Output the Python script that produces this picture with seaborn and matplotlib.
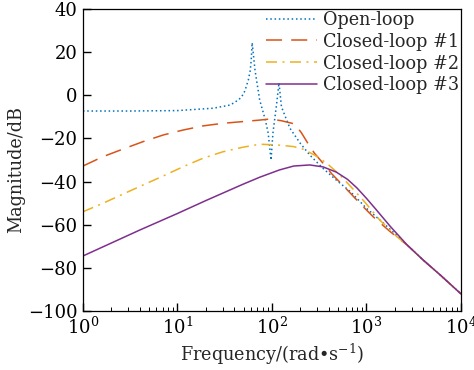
import numpy as np
import pandas as pd
import matplotlib
matplotlib.use("Agg")
import matplotlib.pyplot as plt
import seaborn as sns

# ── data (frequency in rad/s, magnitude in dB) ─────────────────────────────
open_freq = [1, 3.16, 10, 24.0, 36.3, 44.7, 50.1, 52.5, 56.2, 58.9, 60.3, 61.7,
             66.1, 74.1, 85.1, 91.2, 97.7, 102.3, 112.2, 118.6, 125.9, 142.9,
             154.9, 199.5, 251.2, 346.7, 478.6, 676.1, 1000, 1514, 2692, 3981,
             6026, 10000]
open_mag = [-7.3, -7.3, -7.1, -6.0, -4.5, -2.0, 0.6, 3.0, 7.1, 11.5, 16.4, 24.4,
            11.7, -2.2, -11.5, -17.6, -30.0, -17.6, -3.7, 5.8, -5.3, -11.5,
            -15.3, -22.3, -27.7, -33.9, -39.3, -44.7, -52.4, -59.3, -69.4, -76.4,
            -83.3, -92.1]

cl1_freq = [1, 1.62, 2.63, 4.32, 7.08, 11.5, 18.6, 30.2, 49.0, 74.1, 95.5, 125.9,
            173.8, 204.2, 245.5, 281.8, 346.7, 426.6, 549.5, 676.1, 851.1, 1175,
            1778, 2692, 3981, 6026, 10000]
cl1_mag = [-32.8, -28.5, -25.0, -21.5, -18.4, -16.1, -14.2, -13.0, -12.2, -11.5,
           -11.0, -11.8, -13.3, -17.3, -23.0, -26.9, -31.5, -36.3, -41.3, -45.4,
           -50.1, -56.3, -63.2, -69.4, -76.4, -83.3, -92.1]

cl2_freq = [1, 1.62, 2.63, 4.32, 7.08, 11.5, 18.6, 30.2, 49.0, 74.1, 112.2, 169.8,
            213.8, 281.8, 380.2, 524.8, 724.4, 933.3, 1380, 2089, 2692, 3981,
            6026, 10000]
cl2_mag = [-54.0, -50.1, -45.9, -41.6, -37.4, -33.1, -29.2, -26.2, -24.1, -22.7,
           -23.0, -23.8, -25.0, -27.7, -31.5, -37.0, -43.6, -48.9, -57.8, -65.5,
           -69.4, -76.4, -83.3, -92.1]

cl3_freq = [1, 3.98, 10, 20.0, 49.0, 74.1, 120.2, 169.8, 251.2, 346.7, 478.6,
            631.0, 794.3, 1000, 1259, 1778, 2692, 3981, 6026, 10000]
cl3_mag = [-74.5, -62.5, -54.8, -48.8, -41.3, -38.0, -34.6, -32.8, -32.3, -33.2,
           -35.6, -39.0, -43.0, -47.8, -52.9, -60.7, -69.4, -76.4, -83.3,
           -92.1]

labels = ["Open-loop", "Closed-loop #1", "Closed-loop #2", "Closed-loop #3"]
colors = ["#0072BD", "#D95319", "#EDB120", "#7E2F8E"]
styles = [(0, (1, 1.8)), (0, (10.5, 6)), (0, (7.2, 3.6, 1.3, 3.6)), "-"]

sns.set_theme(style="ticks")
plt.rcParams["font.family"] = ["DejaVu Serif"]
plt.rcParams["mathtext.fontset"] = "dejavuserif"
plt.rcParams["font.size"] = 12.7

fig = plt.figure(figsize=(4.74, 3.70), dpi=100)
ax = fig.add_axes([0.175, 0.1595, 0.7976, 0.8162])

series = [(open_freq, open_mag), (cl1_freq, cl1_mag),
          (cl2_freq, cl2_mag), (cl3_freq, cl3_mag)]
for (f, m), lab, c, ls in zip(series, labels, colors, styles):
    df = pd.DataFrame({"freq": f, "mag": m})
    sns.lineplot(data=df, x="freq", y="mag", ax=ax, color=c, linestyle=ls,
                 linewidth=1.1, label=lab, sort=False)

ax.set_xscale("log")
ax.set_xlim(1, 1e4)
ax.set_ylim(-100, 40)
ax.set_yticks(np.arange(-100, 41, 20))
ax.set_xlabel("Frequency/(rad\u2022s$^{-1}$)", fontsize=12.7, labelpad=3)
ax.set_ylabel("Magnitude/dB", fontsize=12.7)
ax.yaxis.set_label_coords(-0.153, 0.467)
ax.tick_params(axis="both", which="both", direction="in", labelsize=13,
               colors="black", top=False, right=False)
ax.tick_params(axis="both", which="major", length=5.5, width=1.0, pad=4)
ax.tick_params(axis="x", which="minor", length=3, width=0.7)
for s in ax.spines.values():
    s.set_visible(True)
    s.set_color("black")
    s.set_linewidth(0.9)

ax.legend(loc="upper right", bbox_to_anchor=(1.0, 1.0), frameon=False,
          borderaxespad=0.0, borderpad=0.1, handlelength=2.9,
          handletextpad=0.35, labelspacing=0.22, fontsize=12.7)

fig.savefig("out.png", dpi=100)
